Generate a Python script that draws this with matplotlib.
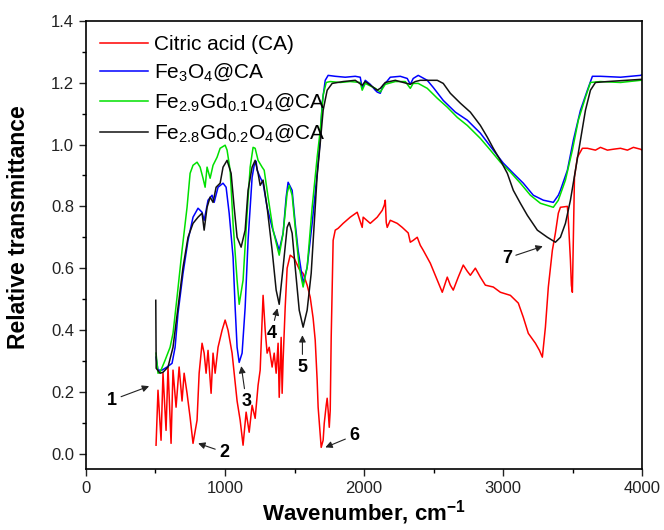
import matplotlib
matplotlib.use('Agg')
import matplotlib.pyplot as plt

plt.rcParams['font.family'] = ['Liberation Sans', 'DejaVu Sans']
plt.rcParams['mathtext.fontset'] = 'custom'
plt.rcParams['mathtext.rm'] = 'Liberation Sans'
plt.rcParams['mathtext.bf'] = 'Liberation Sans:bold'

# Citric acid (CA)
ca_wn = [504, 518, 540, 554, 576, 590, 612, 626, 648, 670, 691, 706, 727, 749, 770,
         799, 814, 835, 850, 864, 878, 900, 914, 929, 950, 979, 1001, 1022, 1051, 1066,
         1087, 1109, 1130, 1152, 1174, 1195, 1217, 1238, 1253, 1274, 1289, 1303, 1318,
         1339, 1354, 1368, 1382, 1390, 1404, 1411, 1418, 1433, 1447, 1469, 1498, 1534,
         1562, 1591, 1613, 1634, 1649, 1663, 1670, 1685, 1692, 1706, 1714, 1728, 1735,
         1742, 1750, 1757, 1764, 1778, 1793, 1814, 1850, 1901, 1951, 1987, 1994, 2045,
         2095, 2131, 2146, 2153, 2160, 2167, 2189, 2239, 2275, 2297, 2318, 2333, 2354,
         2383, 2405, 2426, 2477, 2527, 2563, 2599, 2621, 2642, 2678, 2714, 2743, 2765,
         2801, 2837, 2873, 2930, 2981, 3053, 3110, 3146, 3182, 3233, 3262, 3283, 3305,
         3326, 3355, 3377, 3398, 3413, 3463, 3470, 3485, 3492, 3499, 3506, 3514, 3535,
         3571, 3607, 3665, 3701, 3751, 3794, 3845, 3895, 3938, 3989, 4000]
ca_val = [0.027, 0.205, 0.043, 0.26, 0.075, 0.28, 0.033, 0.27, 0.15, 0.28, 0.17, 0.26,
          0.195, 0.117, 0.033, 0.108, 0.26, 0.357, 0.325, 0.26, 0.334, 0.195, 0.325, 0.26,
          0.344, 0.399, 0.432, 0.399, 0.325, 0.26, 0.17, 0.108, 0.027, 0.134, 0.069, 0.156,
          0.114, 0.221, 0.27, 0.512, 0.40, 0.325, 0.344, 0.28, 0.325, 0.26, 0.357, 0.182,
          0.376, 0.195, 0.302, 0.473, 0.60, 0.642, 0.632, 0.597, 0.583, 0.545, 0.506,
          0.438, 0.367, 0.237, 0.15, 0.059, 0.02, 0.043, 0.098, 0.156, 0.179, 0.14, 0.085,
          0.14, 0.376, 0.69, 0.723, 0.729, 0.745, 0.765, 0.781, 0.732, 0.765, 0.745,
          0.765, 0.787, 0.804, 0.82, 0.748, 0.732, 0.755, 0.745, 0.732, 0.723, 0.714,
          0.684, 0.69, 0.70, 0.674, 0.658, 0.616, 0.561, 0.522, 0.571, 0.545, 0.529,
          0.571, 0.61, 0.59, 0.577, 0.60, 0.571, 0.545, 0.539, 0.522, 0.512, 0.487,
          0.441, 0.389, 0.357, 0.334, 0.312, 0.409, 0.539, 0.658, 0.714, 0.778, 0.797,
          0.80, 0.755, 0.626, 0.545, 0.522, 0.69, 0.894, 0.959, 0.988, 0.988, 0.982,
          0.991, 0.982, 0.985, 0.988, 0.982, 0.991, 0.985, 0.982]

# Fe3O4@CA
fe_wn = [504, 518, 547, 583, 619, 641, 662, 698, 734, 770, 806, 835, 850, 864, 878,
         907, 922, 950, 986, 1008, 1030, 1058, 1073, 1087, 1102, 1123, 1145, 1166, 1195,
         1210, 1224, 1231, 1253, 1274, 1303, 1339, 1375, 1390, 1418, 1440, 1454, 1483,
         1505, 1526, 1562, 1591, 1627, 1663, 1685, 1699, 1721, 1742, 1793, 1865, 1937,
         1973, 1987, 2009, 2045, 2081, 2095, 2117, 2138, 2153, 2189, 2261, 2311, 2333,
         2354, 2390, 2455, 2498, 2570, 2657, 2743, 2837, 2930, 3002, 3074, 3146, 3218,
         3290, 3362, 3398, 3413, 3463, 3506, 3557, 3607, 3643, 3701, 3845, 3989, 4000]
fe_val = [0.312, 0.27, 0.27, 0.28, 0.292, 0.344, 0.454, 0.583, 0.69, 0.765, 0.794,
          0.781, 0.755, 0.787, 0.82, 0.836, 0.813, 0.862, 0.875, 0.862, 0.778, 0.636,
          0.473, 0.344, 0.295, 0.325, 0.473, 0.69, 0.894, 0.933, 0.946, 0.917, 0.894,
          0.875, 0.797, 0.732, 0.68, 0.658, 0.713, 0.83, 0.878, 0.852, 0.745, 0.658,
          0.551, 0.603, 0.745, 0.907, 1.014, 1.134, 1.208, 1.224, 1.221, 1.218, 1.221,
          1.218, 1.182, 1.208, 1.195, 1.176, 1.17, 1.166, 1.192, 1.198, 1.218, 1.221,
          1.214, 1.195, 1.214, 1.224, 1.208, 1.185, 1.143, 1.105, 1.079, 1.037, 0.982,
          0.94, 0.907, 0.875, 0.836, 0.82, 0.813, 0.836, 0.852, 0.917, 1.014, 1.111,
          1.176, 1.221, 1.221, 1.218, 1.224, 1.226]

# Fe2.9Gd0.1O4@CA
gd1_wn = [504, 518, 533, 569, 605, 626, 655, 691, 727, 749, 770, 799, 821, 842, 857,
          871, 893, 914, 943, 965, 1001, 1015, 1037, 1058, 1087, 1102, 1130, 1159, 1181,
          1202, 1217, 1238, 1267, 1282, 1310, 1346, 1390, 1418, 1447, 1462, 1483, 1505,
          1534, 1562, 1591, 1627, 1663, 1685, 1706, 1728, 1757, 1829, 1901, 1973, 1987,
          2009, 2081, 2117, 2153, 2225, 2297, 2333, 2354, 2390, 2455, 2527, 2599, 2671,
          2743, 2837, 2909, 2981, 3053, 3125, 3197, 3269, 3362, 3398, 3449, 3499, 3542,
          3593, 3629, 3701, 3845, 3989, 4000]
gd1_val = [0.325, 0.26, 0.263, 0.302, 0.344, 0.389, 0.506, 0.658, 0.797, 0.907, 0.933,
           0.943, 0.927, 0.891, 0.862, 0.927, 0.891, 0.933, 0.959, 0.988, 0.998, 0.982,
           0.917, 0.745, 0.561, 0.483, 0.561, 0.778, 0.927, 0.991, 0.988, 0.949, 0.927,
           0.917, 0.83, 0.723, 0.642, 0.713, 0.843, 0.868, 0.836, 0.732, 0.603, 0.539,
           0.603, 0.797, 0.959, 1.046, 1.16, 1.201, 1.204, 1.201, 1.204, 1.201, 1.176,
           1.198, 1.182, 1.17, 1.195, 1.204, 1.204, 1.182, 1.198, 1.198, 1.182, 1.15,
           1.121, 1.088, 1.062, 1.02, 0.982, 0.943, 0.911, 0.875, 0.836, 0.81, 0.797,
           0.82, 0.885, 0.982, 1.079, 1.153, 1.201, 1.204, 1.201, 1.208, 1.208]

# Fe2.8Gd0.2O4@CA
gd2_wn = [502, 505, 533, 554, 590, 626, 662, 698, 734, 770, 806, 835, 850, 871, 893,
          914, 936, 965, 986, 1015, 1044, 1066, 1087, 1116, 1145, 1166, 1195, 1217, 1238,
          1253, 1274, 1303, 1339, 1368, 1390, 1418, 1447, 1462, 1483, 1505, 1534, 1562,
          1591, 1620, 1649, 1663, 1685, 1706, 1735, 1771, 1850, 1937, 1987, 2009, 2059,
          2095, 2117, 2153, 2225, 2333, 2369, 2405, 2527, 2570, 2621, 2693, 2765, 2837,
          2887, 2930, 2981, 3031, 3074, 3125, 3175, 3247, 3319, 3377, 3413, 3449, 3485,
          3521, 3557, 3593, 3629, 3665, 3751, 3989, 4000]
gd2_val = [0.496, 0.276, 0.26, 0.263, 0.28, 0.344, 0.473, 0.603, 0.70, 0.745, 0.765,
           0.778, 0.723, 0.797, 0.83, 0.813, 0.862, 0.875, 0.927, 0.949, 0.907, 0.797,
           0.70, 0.668, 0.723, 0.852, 0.927, 0.949, 0.907, 0.868, 0.885, 0.797, 0.658,
           0.529, 0.483, 0.603, 0.732, 0.748, 0.713, 0.603, 0.464, 0.409, 0.464, 0.583,
           0.797, 0.90, 1.004, 1.111, 1.176, 1.198, 1.204, 1.208, 1.192, 1.204, 1.188,
           1.176, 1.182, 1.201, 1.208, 1.195, 1.204, 1.208, 1.208, 1.198, 1.166, 1.134,
           1.105, 1.062, 1.024, 0.988, 0.949, 0.907, 0.852, 0.81, 0.771, 0.723, 0.70,
           0.684, 0.70, 0.745, 0.82, 0.917, 1.014, 1.111, 1.176, 1.201, 1.204, 1.211,
           1.211]

# peak labels: (text, text position, arrow tip)
peak_labels = ['1', '2', '3', '4', '5', '6', '7']
label_xy = [(187, 0.173), (995, 0.004), (1153, 0.169), (1333, 0.39),
            (1557, 0.28), (1931, 0.059), (3027, 0.632)]
tip_xy = [(454, 0.218), (807, 0.033), (1117, 0.283), (1377, 0.47),
          (1557, 0.383), (1722, 0.02), (3286, 0.671)]

fig = plt.figure(figsize=(6.64, 5.30), dpi=100)
ax = fig.add_axes([0.1295, 0.1151, 0.8374, 0.8453])

ax.plot(ca_wn, ca_val, color='#ff0000', lw=1.1, label='Citric acid (CA)')
ax.plot(fe_wn, fe_val, color='#0000ff', lw=1.1, label=r'Fe$_{3}$O$_{4}$@CA')
ax.plot(gd1_wn, gd1_val, color='#00e000', lw=1.1, label=r'Fe$_{2.9}$Gd$_{0.1}$O$_{4}$@CA')
ax.plot(gd2_wn, gd2_val, color='#111111', lw=1.1, label=r'Fe$_{2.8}$Gd$_{0.2}$O$_{4}$@CA')

for t, xy, tip in zip(peak_labels, label_xy, tip_xy):
    ax.annotate(t, xy=tip, xytext=xy, fontsize=13, fontweight='bold',
                ha='center', va='center',
                arrowprops=dict(arrowstyle='-|>', color='#222222', lw=0.8,
                                mutation_scale=10, shrinkA=1, shrinkB=0))

ax.set_xlim(0, 4000)
ax.set_ylim(-0.05, 1.4)
ax.set_xticks([0, 1000, 2000, 3000, 4000])
ax.set_xticks([500, 1500, 2500, 3500], minor=True)
ax.set_yticks([0.0, 0.2, 0.4, 0.6, 0.8, 1.0, 1.2, 1.4])
ax.set_yticks([0.1, 0.3, 0.5, 0.7, 0.9, 1.1, 1.3], minor=True)
ax.yaxis.set_major_formatter(matplotlib.ticker.FormatStrFormatter('%.1f'))
ax.tick_params(which='major', direction='out', length=5, width=1.0, labelsize=12,
               colors='#222222')
ax.tick_params(which='minor', direction='out', length=3, width=1.0)
for s in ax.spines.values():
    s.set_linewidth(1.2)

ax.set_xlabel(r'Wavenumber, cm$\mathbf{^{-1}}$', fontsize=16, fontweight='bold', labelpad=2)
ax.set_ylabel('Relative transmittance', fontsize=16.5, fontweight='bold')
ax.yaxis.set_label_coords(-0.1, 0.54)

ax.legend(loc='upper left', frameon=False, fontsize=15, handlelength=2.3,
          handletextpad=0.3, labelspacing=0.38, borderaxespad=0.28,
          bbox_to_anchor=(0.0, 1.0))

fig.savefig('out.png', dpi=100)
